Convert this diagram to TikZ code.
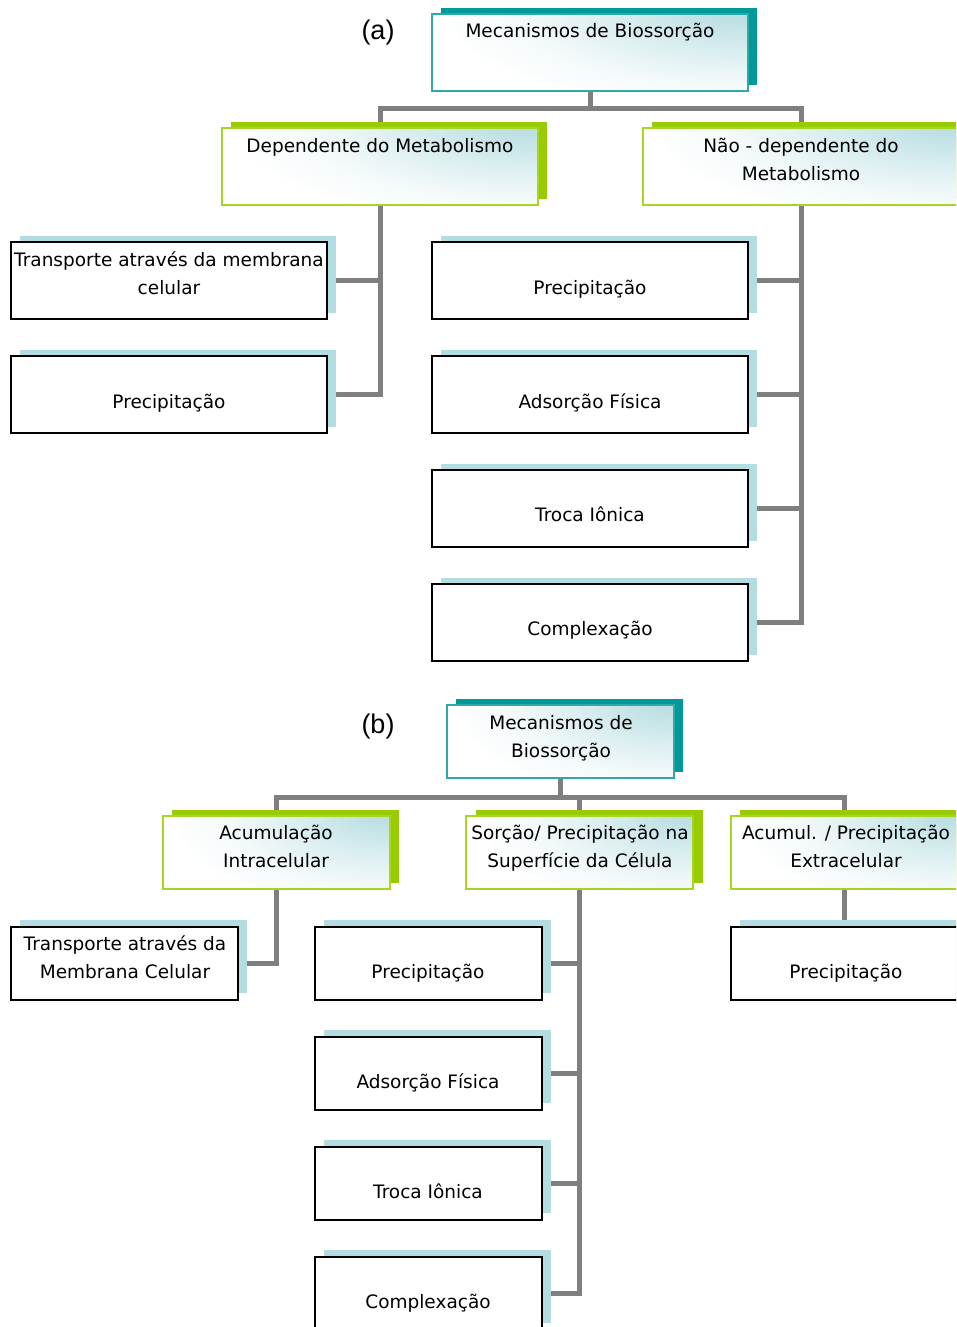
\documentclass[tikz,border=0pt]{standalone}
\usepackage{fontspec}
\setmainfont{DejaVu Sans}
\newfontfamily\lblfont{Liberation Sans}
\usetikzlibrary{backgrounds}
\definecolor{tealS}{HTML}{009999}
\definecolor{greenS}{HTML}{99CC00}
\definecolor{lbS}{HTML}{B4DDE1}
\definecolor{connC}{HTML}{7F7F7F}
\definecolor{tealB}{HTML}{2FA8A8}
\definecolor{greenB}{HTML}{A8D422}
\definecolor{hdrF}{HTML}{B3DBDF}
\colorlet{hdrM}{hdrF!50!white}
\colorlet{hdrL}{hdrF!15!white}
\pgfdeclareradialshading{hdrshade}{\pgfpoint{0bp}{0bp}}{color(0bp)=(hdrF); color(10bp)=(hdrM); color(18bp)=(hdrL); color(25bp)=(white); color(50bp)=(white)}
\tikzset{
  x=1pt, y=-1pt,
  sizeA/.style={minimum width=316pt, minimum height=77pt},
  sizeB/.style={minimum width=227pt, minimum height=73pt},
  boxbase/.style={anchor=north west, inner sep=0pt, outer sep=0pt},
  shTeal/.style={boxbase, fill=tealS, draw=none},
  shGreen/.style={boxbase, fill=greenS, draw=none},
  shLight/.style={boxbase, fill=lbS, draw=none},
  hdrfill/.style={fill=white, path picture={
      \shade[shading=hdrshade]
        ([xshift=0pt,yshift=6pt]path picture bounding box.north east)
        ellipse [x radius=0.95*#1, y radius=105pt];}},
  hdrTeal/.style={boxbase, draw=tealB, line width=1.2pt, hdrfill=#1},
  hdrGreen/.style={boxbase, draw=greenB, line width=1.2pt, hdrfill=#1},
  leaf/.style={boxbase, draw=black, line width=1.3pt, fill=white},
  txt/.style={font=\fontsize{18.5}{27.5}\selectfont, align=center, inner sep=0pt, text height=12pt, text depth=4pt},
  tag/.style={font=\lblfont\fontsize{27}{30}\selectfont, inner sep=0pt},
  conn/.style={draw=connC, line width=5pt, line join=miter}
}
\begin{document}
\begin{tikzpicture}
\useasboundingbox (0,0) rectangle (956,1327);
\clip (0,0) rectangle (956,1327);

% ---------------- (a) ----------------
\node[tag] (tagA) at (378,33) {(a)};

\node[shTeal, sizeA] (rootAs) at (441,8) {};
\node[hdrTeal=316pt, sizeA] (rootA) at (432,14) {};
\node[txt] (rootAt) at (590,34) {Mecanismos de Biossorção};

\node[shGreen, sizeA] (depAs) at (231,122) {};
\node[hdrGreen=316pt, sizeA] (depA) at (222,128) {};
\node[txt] (depAt) at (380,148) {Dependente do Metabolismo};

\node[shGreen, sizeA] (ndepAs) at (652,122) {};
\node[hdrGreen=316pt, sizeA] (ndepA) at (643,128) {};
\node[txt] (ndepAt) at (801,176) {Não - dependente do\\Metabolismo};

\node[shLight, sizeA] (a1s) at (20,236) {};
\node[leaf, sizeA] (a1) at (11,242) {};
\node[txt] (a1t) at (169,290) {Transporte através da membrana\\celular};

\node[shLight, sizeA] (a2s) at (20,350) {};
\node[leaf, sizeA] (a2) at (11,356) {};
\node[txt] (a2t) at (169,404) {Precipitação};

\node[shLight, sizeA] (a3s) at (441,236) {};
\node[leaf, sizeA] (a3) at (432,242) {};
\node[txt] (a3t) at (590,290) {Precipitação};

\node[shLight, sizeA] (a4s) at (441,350) {};
\node[leaf, sizeA] (a4) at (432,356) {};
\node[txt] (a4t) at (590,404) {Adsorção Física};

\node[shLight, sizeA] (a5s) at (441,464) {};
\node[leaf, sizeA] (a5) at (432,470) {};
\node[txt] (a5t) at (590,517) {Troca Iônica};

\node[shLight, sizeA] (a6s) at (441,578) {};
\node[leaf, sizeA] (a6) at (432,584) {};
\node[txt] (a6t) at (590,631) {Complexação};

% ---------------- (b) ----------------
\node[tag] (tagB) at (378,727) {(b)};

\node[shTeal, sizeB] (rootBs) at (456,699) {};
\node[hdrTeal=227pt, sizeB] (rootB) at (447,705) {};
\node[txt] (rootBt) at (561,753) {Mecanismos de\\Biossorção};

\node[shGreen, sizeB] (c1s) at (172,810) {};
\node[hdrGreen=227pt, sizeB] (c1) at (163,816) {};
\node[txt] (c1t) at (276,863) {Acumulação\\Intracelular};

\node[shGreen, sizeB] (c2s) at (476,810) {};
\node[hdrGreen=227pt, sizeB] (c2) at (466,816) {};
\node[txt] (c2t) at (580,863) {Sorção/ Precipitação na\\Superfície da Célula};

\node[shGreen, sizeB] (c3s) at (740,810) {};
\node[hdrGreen=227pt, sizeB] (c3) at (731,816) {};
\node[txt] (c3t) at (846,863) {Acumul. / Precipitação\\Extracelular};

\node[shLight, sizeB] (b1s) at (20,920) {};
\node[leaf, sizeB] (b1) at (11,927) {};
\node[txt] (b1t) at (125,974) {Transporte através da\\Membrana Celular};

\node[shLight, sizeB] (b2s) at (324,920) {};
\node[leaf, sizeB] (b2) at (315,927) {};
\node[txt] (b2t) at (428,974) {Precipitação};

\node[shLight, sizeB] (b3s) at (324,1030) {};
\node[leaf, sizeB] (b3) at (315,1037) {};
\node[txt] (b3t) at (428,1084) {Adsorção Física};

\node[shLight, sizeB] (b4s) at (324,1140) {};
\node[leaf, sizeB] (b4) at (315,1147) {};
\node[txt] (b4t) at (428,1194) {Troca Iônica};

\node[shLight, sizeB] (b5s) at (324,1250) {};
\node[leaf, sizeB] (b5) at (315,1257) {};
\node[txt] (b5t) at (428,1304) {Complexação};

\node[shLight, sizeB] (b6s) at (740,920) {};
\node[leaf, sizeB] (b6) at (731,927) {};
\node[txt] (b6t) at (846,974) {Precipitação};

% ---------------- connectors ----------------
\begin{scope}[on background layer]
  \draw[conn] (rootA.south) -- ++(0,18) coordinate (ja);
  \draw[conn] (ja) -| (depA.north);
  \draw[conn] (ja) -| (ndepA.north);
  \draw[conn] (depA.south) |- (a1.east);
  \draw[conn] (depA.south) |- (a2.east);
  \draw[conn] (ndepA.south) |- (a3.east);
  \draw[conn] (ndepA.south) |- (a4.east);
  \draw[conn] (ndepA.south) |- (a5.east);
  \draw[conn] (ndepA.south) |- (a6.east);

  \draw[conn] (rootB.south) -- ++(0,19) coordinate (jb);
  \draw[conn] (jb) -| (c1.north);
  \draw[conn] (jb) -| (c2.north);
  \draw[conn] (jb) -| (c3.north);
  \draw[conn] (c1.south) |- (b1.east);
  \draw[conn] (c2.south) |- (b2.east);
  \draw[conn] (c2.south) |- (b3.east);
  \draw[conn] (c2.south) |- (b4.east);
  \draw[conn] (c2.south) |- (b5.east);
  \draw[conn] (c3.south) -- (b6.north);
\end{scope}
\end{tikzpicture}
\end{document}
